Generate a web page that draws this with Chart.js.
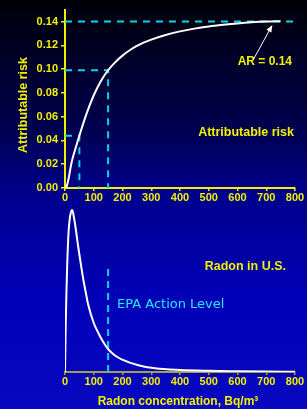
<!DOCTYPE html>
<html>
<head>
<meta charset="utf-8">
<script src="https://cdn.jsdelivr.net/npm/chart.js@4/dist/chart.umd.min.js"></script>
<style>
html, body { margin: 0; padding: 0; }
body {
    width: 307px; height: 409px; overflow: hidden; position: relative;
    background: linear-gradient(to bottom, #000008 0px, #000050 130px, #00008c 190px, #0000b8 300px, #0808c0 409px);
}
#top { position: absolute; left: 0; top: 0; width: 307px; height: 205px; }
#bottom { position: absolute; left: 0; top: 195px; width: 307px; height: 214px; }
</style>
</head>
<body>
<div id="top"><canvas id="arChart"></canvas></div>
<div id="bottom"><canvas id="radonChart"></canvas></div>
<script>
// attributable risk curve (Bq/m3 -> AR)
const arX = [0, 5, 10, 15, 20, 25, 37.5, 50, 75, 100, 125, 150, 175, 200, 225, 250, 275, 300, 350, 400, 450, 500, 550, 600, 650, 700, 750];
const arY = [0, 0.001, 0.005, 0.011, 0.018, 0.0235, 0.034, 0.044, 0.0625, 0.078, 0.090, 0.099, 0.1058, 0.1113, 0.1158, 0.1194, 0.1224, 0.1248, 0.1287, 0.1317, 0.1340, 0.1358, 0.1372, 0.1384, 0.1393, 0.1399, 0.1402];

// dashed guides on the AR chart
const arMax = 0.14;
const guideX = [50, 150];
const guideAR = [0.044, 0.099];

// distribution of radon in U.S. homes (relative frequency)
const radonX = [0, 2, 5, 8, 12, 16, 20, 25, 32, 37, 45, 55, 64, 72, 81, 100, 116, 130, 151, 175, 197, 255, 313, 400, 500, 600, 700, 800];
const radonY = [0, 0.40, 0.80, 1.10, 1.38, 1.52, 1.59, 1.62, 1.53, 1.44, 1.27, 1.08, 0.92, 0.80, 0.67, 0.49, 0.39, 0.315, 0.225, 0.163, 0.127, 0.068, 0.037, 0.02, 0.012, 0.008, 0.005, 0.003];

const epaLevel = 150;
const epaLineTop = 1.03;

const xTicks = [0, 100, 200, 300, 400, 500, 600, 700, 800];
const yTicks = [0, 0.02, 0.04, 0.06, 0.08, 0.10, 0.12, 0.14];

// arrow pointing at the plateau
const arrowFrom = { x: 655, y: 0.108 };
const arrowTo = { x: 721, y: 0.137 };

const yellow = '#f0f000';
const cyan = '#00d8e8';
const olive = '#a8a040';
const sans = 'Liberation Sans, Arial, sans-serif';
const tickFont = { family: sans, size: 11, weight: 'bold' };

function pts(xs, ys) {
    return xs.map((x, i) => ({ x: x, y: ys[i] }));
}

function dashed(data) {
    return {
        data: data,
        borderColor: cyan,
        borderWidth: 2,
        borderDash: [7, 6],
        pointRadius: 0,
        tension: 0
    };
}

const topLabels = {
    id: 'topLabels',
    afterDraw(chart) {
        const c = chart.ctx;
        const xs = chart.scales.x, ys = chart.scales.y;
        c.save();
        c.fillStyle = yellow;
        c.font = 'bold 12.5px ' + sans;
        c.textBaseline = 'middle';

        c.save();
        c.translate(24, 105);
        c.rotate(-Math.PI / 2);
        c.textAlign = 'center';
        c.fillText('Attributable risk', 0, 0);
        c.restore();

        c.textAlign = 'right';
        c.fillText('Attributable risk', 294, 133);
        c.font = 'bold 12px ' + sans;
        c.fillText('AR = 0.14', 292, 62);

        // arrow
        const x1 = xs.getPixelForValue(arrowFrom.x), y1 = ys.getPixelForValue(arrowFrom.y);
        const x2 = xs.getPixelForValue(arrowTo.x), y2 = ys.getPixelForValue(arrowTo.y);
        const a = Math.atan2(y2 - y1, x2 - x1);
        c.strokeStyle = '#ffffff';
        c.fillStyle = '#ffffff';
        c.lineWidth = 1;
        c.beginPath();
        c.moveTo(x1, y1);
        c.lineTo(x2 - 4 * Math.cos(a), y2 - 4 * Math.sin(a));
        c.stroke();
        c.beginPath();
        c.moveTo(x2, y2);
        c.lineTo(x2 - 7 * Math.cos(a) + 2.8 * Math.sin(a), y2 - 7 * Math.sin(a) - 2.8 * Math.cos(a));
        c.lineTo(x2 - 7 * Math.cos(a) - 2.8 * Math.sin(a), y2 - 7 * Math.sin(a) + 2.8 * Math.cos(a));
        c.closePath();
        c.fill();
        c.restore();
    }
};

const bottomLabels = {
    id: 'bottomLabels',
    afterDraw(chart) {
        const c = chart.ctx;
        c.save();
        c.textBaseline = 'middle';
        c.fillStyle = yellow;
        c.font = 'bold 12.5px ' + sans;
        c.textAlign = 'right';
        c.fillText('Radon in U.S.', 286, 72);

        c.textAlign = 'center';
        c.font = 'bold 12px ' + sans;
        c.fillText('Radon concentration, Bq/m\u00b3', 178, 207);

        c.textAlign = 'left';
        c.fillStyle = '#20ecff';
        c.font = '13px DejaVu Sans, sans-serif';
        c.fillText('EPA Action Level', 117, 110);
        c.restore();
    }
};

const arDatasets = [
    {
        data: pts(arX, arY),
        borderColor: '#ffffff',
        borderWidth: 2,
        pointRadius: 0,
        cubicInterpolationMode: 'monotone'
    },
    dashed([{ x: 0, y: arMax }, { x: 800, y: arMax }])
];
guideX.forEach((gx, i) => {
    arDatasets.push(dashed([{ x: 0, y: guideAR[i] }, { x: gx, y: guideAR[i] }, { x: gx, y: 0 }]));
});

new Chart(document.getElementById('arChart'), {
    type: 'line',
    data: { datasets: arDatasets },
    options: {
        responsive: true,
        maintainAspectRatio: false,
        animation: false,
        layout: { padding: { top: 3, right: 12, left: 0, bottom: 0 } },
        plugins: { legend: { display: false }, tooltip: { enabled: false } },
        scales: {
            x: {
                type: 'linear',
                min: 0,
                max: 800,
                border: { color: yellow, width: 2 },
                grid: { drawOnChartArea: false, color: yellow, tickLength: 3, lineWidth: 1.5 },
                ticks: { color: yellow, font: tickFont, padding: 0, maxRotation: 0 },
                afterBuildTicks(s) { s.ticks = xTicks.map(v => ({ value: v })); },
                afterFit(s) { s.height = 17; }
            },
            y: {
                min: 0,
                max: 0.15,
                border: { color: yellow, width: 2 },
                grid: { drawOnChartArea: false, color: yellow, tickLength: 4, lineWidth: 1.5 },
                ticks: { color: yellow, font: tickFont, padding: 3, callback: v => v.toFixed(2) },
                afterBuildTicks(s) { s.ticks = yTicks.map(v => ({ value: v })); },
                afterFit(s) { s.width = 65; }
            }
        }
    },
    plugins: [topLabels]
});

new Chart(document.getElementById('radonChart'), {
    type: 'line',
    data: {
        datasets: [
            {
                data: pts(radonX, radonY),
                borderColor: '#ffffff',
                borderWidth: 2,
                pointRadius: 0,
                cubicInterpolationMode: 'monotone'
            },
            Object.assign(dashed([{ x: epaLevel, y: 0 }, { x: epaLevel, y: epaLineTop }]), { borderDash: [7, 5] })
        ]
    },
    options: {
        responsive: true,
        maintainAspectRatio: false,
        animation: false,
        layout: { padding: { top: 7, right: 12, left: 65, bottom: 0 } },
        plugins: { legend: { display: false }, tooltip: { enabled: false } },
        scales: {
            x: {
                type: 'linear',
                min: 0,
                max: 800,
                border: { color: olive, width: 2 },
                grid: { drawOnChartArea: false, color: olive, tickLength: 3, lineWidth: 1.5 },
                ticks: { color: yellow, font: tickFont, padding: 0, maxRotation: 0 },
                afterBuildTicks(s) { s.ticks = xTicks.map(v => ({ value: v })); },
                afterFit(s) { s.height = 37; }
            },
            y: { display: false, min: 0, max: 1.70 }
        }
    },
    plugins: [bottomLabels]
});
</script>
</body>
</html>
